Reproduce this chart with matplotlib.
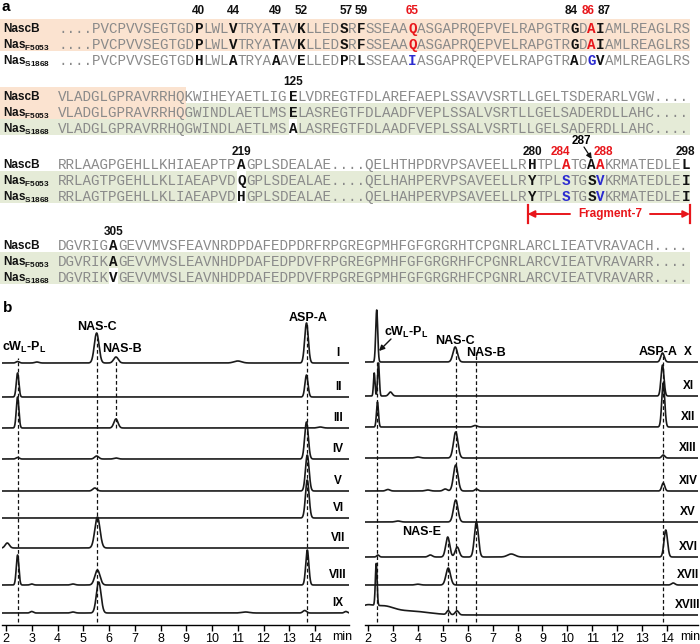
import numpy as np
import matplotlib
matplotlib.use("Agg")
import matplotlib.pyplot as plt
from matplotlib.patches import Rectangle

plt.rcParams["font.family"] = ["Liberation Sans", "DejaVu Sans"]
plt.rcParams["mathtext.fontset"] = "custom"
plt.rcParams["mathtext.rm"] = "Liberation Sans"
plt.rcParams["mathtext.bf"] = "Liberation Sans:bold"
plt.rcParams["mathtext.it"] = "Liberation Sans:italic"

# ---- panel a: alignment data -------------------------------------------
ROW_NAMES = ["NascB", r"Nas$_{\mathbf{F5053}}$", r"Nas$_{\mathbf{S1868}}$"]

B1_SEQS = ["....PVCPVVSEGTGDPLWLVTRYATAVKLLEDSRFSSEAAQASGAPRQEPVELRAPGTRGDAIAMLREAGLRS",
           "....PVCPVVSEGTGDPLWLVTRYATAVKLLEDSRFSSEAAQASGAPRQEPVELRAPGTRGDAIAMLREAGLRS",
           "....PVCPVVSEGTGDHLWLATRYAAAVELLEDPRLSSEAAIASGAPRQEPVELRAPGTRADGVAMLREAGLRS"]
B2_SEQS = ["VLADGLGPRAVRRHQKWIHEYAETLIGELVDREGTFDLAREFAEPLSSAVVSRTLLGELTSDERARLVGW....",
           "VLADGLGPRAVRRHQGWINDLAETLMSELASREGTFDLAADFVEPLSSALVSRTLLGELSADERDLLAHC....",
           "VLADGLGPRAVRRHQGWINDLAETLMSALASREGTFDLAADFVEPLSSALVSRTLLGELSADERDLLAHC...."]
B3_SEQS = ["RRLAAGPGEHLLKHIAEAPTPAGPLSDEALAE....QELHTHPDRVPSAVEELLRHTPLATGAAKRMATEDLEL",
           "RRLAGTPGEHLLKLIAEAPVDQGPLSDEALAE....QELHAHPERVPSAVEELLRYTPLSTGSVKRMATEDLEI",
           "RRLAGTPGEHLLKLIAEAPVDHGPLSDEALAE....QELHAHPERVPSAVEELLRYTPLSTGSVKRMATEDLEI"]
B4_SEQS = ["DGVRIGAGEVVMVSFEAVNRDPDAFEDPDRFRPGREGPMHFGFGRGRHTCPGNRLARCLIEATVRAVACH....",
           "DGVRIKAGEVVMVSLEAVNHDPDAFEDPDVFRPGREGPMHFGFGRGRHFCPGNRLARCVIEATVRAVARR....",
           "DGVRIKVGEVVMVSLEAVNHDPDAFEDPDVFRPGREGPMHFGFGRGRHFCPGNRLARCVIEATVRAVARR...."]

# numbered residues: (label, column, label colour, per-row residue colours)
B1_MARKS = [("40", 16, "k", "kkk"), ("44", 20, "k", "kkk"), ("49", 25, "k", "kkk"),
            ("52", 28, "k", "kkk"), ("57", 33, "k", "kkk"), ("59", 35, "k", "kkk"),
            ("65", 41, "r", "rrb"), ("84", 60, "k", "kkk"), ("86", 62, "r", "rrb"),
            ("87", 63, "k", "kkk")]
B2_MARKS = [("125", 27, "k", "kkk")]
B3_MARKS = [("219", 21, "k", "kkk"), ("280", 55, "k", "kkk"), ("284", 59, "r", "rbb"),
            ("", 62, "k", "kkk"), ("288", 63, "r", "rbb"), ("298", 73, "k", "kkk")]
B4_MARKS = [("305", 6, "k", "kkk")]

# ---- panel b: HPLC traces, peaks as (retention time min, height, width) --
LEFT_NAMES = ["I", "II", "III", "IV", "V", "VI", "VII", "VIII", "IX"]
LEFT_PEAKS = [
    [(2.45, 1.5, .06), (3.2, 1, .08), (5.52, 30, .09), (6.27, 6, .09), (11.0, 2, .15), (13.67, 40, .07)],
    [(2.45, 24, .05), (13.67, 22, .06)],
    [(2.45, 31, .05), (6.27, 9, .08), (14.2, 1, .1)],
    [(2.45, 1.5, .06), (5.52, 3, .08), (6.27, 1, .08), (13.67, 37, .07)],
    [(5.45, 3, .08), (13.7, 36, .07)],
    [(13.7, 38, .07)],
    [(2.05, 5, .08), (5.55, 31, .1)],
    [(2.45, 30, .05), (3.0, 1, .06), (4.6, 1, .08), (5.55, 15, .1), (13.7, 35, .06)],
    [(3.0, 1.5, .06), (4.6, 1, .08), (5.6, 31, .09), (11.3, 1, .15), (13.6, 2.5, .07), (15.2, 1.5, .06)],
]
RIGHT_NAMES = ["X", "XI", "XII", "XIII", "XIV", "XV", "XVI", "XVII", "XVIII"]
RIGHT_PEAKS = [
    [(2.35, 52, .04), (5.5, 15, .09), (13.82, 9, .07)],
    [(2.25, 23, .03), (2.42, 33, .035), (2.9, 4, .07), (13.82, 31, .06)],
    [(2.38, 25, .04), (6.3, 1.5, .08), (13.85, 44, .06)],
    [(4.0, 1, .1), (5.52, 26, .09), (13.85, 3, .06)],
    [(2.8, 1.5, .08), (4.4, 1, .1), (5.1, 2, .08), (5.52, 26, .09), (6.35, 2, .06), (13.85, 8, .06)],
    [(3.2, 1, .1), (5.52, 22, .09)],
    [(2.4, 2, .05), (4.5, 2, .08), (5.2, 20, .08), (5.58, 10, .08), (6.35, 35, .08), (7.75, 3, .15), (13.95, 27, .07)],
    [(4.0, .8, .1), (5.22, 17, .09), (14.25, 2, .07)],
    [(1.9, 8, .3), (2.33, 42, .035), (2.6, 7, .4), (3.6, 4, .8), (5.22, 4, .06), (5.57, 4, .07)],
]
# marker lines: (retention time, top px, bottom px)
LEFT_MARKERS = [(2.45, 358, 622), (5.55, 338, 622), (6.27, 360, 428), (13.68, 322, 622)]
RIGHT_MARKERS = [(2.37, 362, 622), (5.22, 540, 622), (5.53, 348, 622), (6.35, 352, 622), (13.85, 356, 622)]
MIN_TICKS = list(range(2, 15))

# ---- styling -----------------------------------------------------------
RED, BLUE, GRAY, INK = "#e8161b", "#2b2bd0", "#8a8a8a", "#111111"
ORANGE_BG, GREEN_BG = "#fbe3d0", "#e5ebd7"
COLS = {"k": INK, "r": RED, "b": BLUE}
X0, CW = 58.0, 8.54          # first sequence column (px), column width (px)
SEQ_SIZE = CW / 0.6 * 72 / 100
ROW_H = 16.0
NUDGE = {"84": -4, "86": -4, "87": 4, "57": 2, "284": -6, "288": 3}

fig = plt.figure(figsize=(7.0, 6.44), dpi=100)
ov = fig.add_axes([0, 0, 1, 1])
ov.set_xlim(0, 700); ov.set_ylim(644, 0); ov.axis("off")


def colx(c):
    return X0 + c * CW


def band(x0, x1, y, color, nrows=1):
    ov.add_patch(Rectangle((x0, y - ROW_H / 2), x1 - x0, ROW_H * nrows,
                           fc=color, ec="none", zorder=0))


def seq_row(y, seq, style):
    """style: dict col -> colour code; styled residues are bold."""
    runs, cur, start = [], None, 0
    for i in range(len(seq) + 1):
        s = style.get(i, "g") if i < len(seq) else None
        if s != cur:
            if cur is not None:
                runs.append((start, seq[start:i], cur))
            cur, start = s, i
    for c0, txt, s in runs:
        ov.text(colx(c0), y, txt, family="Liberation Mono", size=SEQ_SIZE,
                color=GRAY if s == "g" else COLS[s],
                weight="normal" if s == "g" else "bold",
                ha="left", va="center_baseline", zorder=3)


def block(rows_y, num_y, seqs, marks):
    for r, (y, seq) in enumerate(zip(rows_y, seqs)):
        ov.text(3, y, ROW_NAMES[r], size=8.5, weight="bold", ha="left",
                va="center_baseline", color=INK)
        seq_row(y, seq, {c: rc[r] for _, c, _, rc in marks})
    for lab, c, lc, _ in marks:
        if lab:
            ov.text(colx(c + 0.5) + NUDGE.get(lab, 0), num_y, lab, size=8.5,
                    weight="bold", color=COLS[lc], ha="center", va="center")


ov.text(2, 7, "a", size=11, weight="bold", va="center")
ov.text(3, 308, "b", size=11, weight="bold", va="center")

END = colx(74)
# block 1
R1 = [27, 43, 59]
band(0, END, R1[0], ORANGE_BG, 2)
block(R1, 11, B1_SEQS, B1_MARKS)
# block 2
R2 = [95, 111, 127]
band(0, colx(15), R2[0], ORANGE_BG, 2)
band(0, colx(15), R2[2], GREEN_BG)
band(colx(15), END, R2[1], GREEN_BG, 2)
ov.add_patch(Rectangle((colx(27), R2[2] - ROW_H / 2), CW, ROW_H, fc="white", ec="none", zorder=1))
block(R2, 82, B2_SEQS, B2_MARKS)
# block 3
R3 = [163, 179, 195]
band(0, END, R3[1], GREEN_BG, 2)
ov.add_patch(Rectangle((colx(21), R3[1] - ROW_H / 2), CW, 2 * ROW_H, fc="white", ec="none", zorder=1))
block(R3, 152, B3_SEQS, B3_MARKS)
ov.text(581, 141, "287", size=8.5, weight="bold", ha="center", va="center")
ov.annotate("", xy=(colx(62.5), 159), xytext=(584, 147),
            arrowprops=dict(arrowstyle="-|>", color=INK, lw=0.9,
                            mutation_scale=8, shrinkA=0, shrinkB=0))
# fragment-7 bracket
FY = 214
for xb in (colx(55), END):
    ov.plot([xb, xb], [FY - 9, FY + 9], color=RED, lw=1.6)
ov.annotate("", xy=(colx(55), FY), xytext=(570, FY),
            arrowprops=dict(arrowstyle="-|>", color=RED, lw=1.4, mutation_scale=10,
                            shrinkA=0, shrinkB=0))
ov.annotate("", xy=(END, FY), xytext=(650, FY),
            arrowprops=dict(arrowstyle="-|>", color=RED, lw=1.4, mutation_scale=10,
                            shrinkA=0, shrinkB=0))
ov.text(610, FY, "Fragment-7", size=8.5, weight="bold", color=RED, ha="center", va="center")
# block 4
R4 = [244, 260, 276]
band(0, END, R4[1], GREEN_BG, 2)
ov.add_patch(Rectangle((colx(6), R4[2] - ROW_H / 2), CW, ROW_H, fc="white", ec="none", zorder=1))
block(R4, 232, B4_SEQS, B4_MARKS)

# ---- panel b -----------------------------------------------------------
AX_TOP, AX_BOT = 295, 625


def chrom_axes(px0, px1, t2, t14):
    scale = (t14 - t2) / 12.0
    ax = fig.add_axes([px0 / 700, 1 - AX_BOT / 644, (px1 - px0) / 700,
                       (AX_BOT - AX_TOP) / 644])
    ax.set_xlim(2 - (t2 - px0) / scale, 14 + (px1 - t14) / scale)
    ax.set_ylim(0, AX_BOT - AX_TOP)
    ax.patch.set_alpha(0)
    for s in ("top", "left", "right"):
        ax.spines[s].set_visible(False)
    ax.spines["bottom"].set_linewidth(1.0)
    ax.set_yticks([])
    ax.set_xticks(MIN_TICKS)
    ax.tick_params(axis="x", direction="out", length=4, width=1.0, labelsize=9,
                   pad=2)
    return ax


def draw_traces(ax, baselines_px, peaks, markers):
    t = np.linspace(*ax.get_xlim(), 2500)
    for base_px, pk in zip(baselines_px, peaks):
        y = np.full_like(t, AX_BOT - base_px, dtype=float)
        for rt, h, w in pk:
            y += h * np.exp(-0.5 * ((t - rt) / w) ** 2)
        ax.plot(t, y, color="#1a1a1a", lw=1.2, solid_joinstyle="round")
    for rt, top, bot in markers:
        ax.plot([rt, rt], [AX_BOT - bot, AX_BOT - top], color=INK, lw=0.9,
                ls=(0, (3, 2)))


LEFT_BASE = [363, 397, 428, 459, 491, 518, 548, 585, 613]
RIGHT_BASE = [362, 396, 427, 458, 491, 522, 557, 585, 615]

axL = chrom_axes(2, 349, 6, 315)
draw_traces(axL, LEFT_BASE, LEFT_PEAKS, LEFT_MARKERS)
axR = chrom_axes(365, 698, 368, 667)
draw_traces(axR, RIGHT_BASE, RIGHT_PEAKS, RIGHT_MARKERS)

ov.text(342, 637, "min", size=9, ha="center", va="center")
ov.text(690, 637, "min", size=9, ha="center", va="center")

for name, b in zip(LEFT_NAMES, LEFT_BASE):
    ov.text(338, b - 10, name, size=8.5, weight="bold", ha="center", va="center")
for name, b in zip(RIGHT_NAMES, RIGHT_BASE):
    ov.text(688, b - 10, name, size=8.5, weight="bold", ha="center", va="center")

CWL = r"cW$_{\mathbf{L}}$-P$_{\mathbf{L}}$"
kw = dict(size=9, weight="bold", va="center")
ov.text(2, 347, CWL, ha="left", **kw)
ov.text(97, 327, "NAS-C", ha="center", **kw)
ov.text(122, 349, "NAS-B", ha="center", **kw)
ov.text(308, 318, "ASP-A", ha="center", **kw)

ov.text(384, 332, CWL, ha="left", **kw)
ov.annotate("", xy=(379, 351), xytext=(391, 339),
            arrowprops=dict(arrowstyle="-|>", color=INK, lw=1.0, mutation_scale=8,
                            shrinkA=0, shrinkB=0))
ov.text(455, 341, "NAS-C", ha="center", **kw)
ov.text(486, 353, "NAS-B", ha="center", **kw)
ov.text(658, 352, "ASP-A", ha="center", **kw)
ov.text(422, 532, "NAS-E", ha="center", **kw)

fig.savefig("out.png", dpi=100)
